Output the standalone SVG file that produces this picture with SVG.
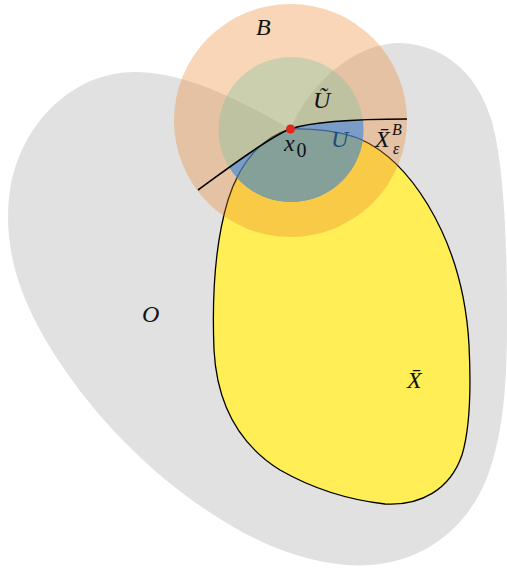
<svg xmlns="http://www.w3.org/2000/svg" width="507" height="571" viewBox="0 0 507 571">
<style>
.lbl{font-family:"Liberation Serif","Times New Roman",serif;font-style:italic;font-size:24px;fill:#111}
.up{font-style:normal}
</style>
<defs>
<path id="xbar" d="M290,129 C262,137 240,162 228,200 C215,243 212,300 214,350 C217,405 240,445 280,470 C315,490 350,500 385,504 C420,506 450,490 462,455 C471,425 471,385 469,345 C466,290 452,245 428,205 C408,172 385,150 360,139 C340,131 312,128 290,129 Z"/>
<clipPath id="uclip">
<path d="M198,190 C215,178 265,139 290,129 C305,124 340,119 407,119 L420,119 L420,260 L180,260 L180,205 Z"/>
</clipPath>
<clipPath id="tcirc"><circle cx="291" cy="129.5" r="72.5"/></clipPath>
</defs>
<g id="O">
<path d="M290,129 C240,100 185,72 135,72 C75,72 22,120 10,190 C0,260 30,320 67,373 C110,435 170,490 230,525 C280,555 330,568 370,565 C425,561 468,528 488,475 C504,432 507,380 507,320 C507,250 505,170 492,122 C480,80 450,45 400,43 C360,43 315,75 290,129 Z" fill="#e1e1e1"/>
</g>
<g id="Xbar">
<use href="#xbar" fill="#ffee55" stroke="#000" stroke-width="1.3"/>
</g>
<g id="B">
<circle cx="290.5" cy="120.5" r="116.5" fill="rgb(237,130,37)" fill-opacity="0.33"/>
</g>
<g id="Utilde">
<circle cx="291" cy="129.5" r="72.5" fill="rgb(117,194,154)" fill-opacity="0.35"/>
</g>
<g id="U" clip-path="url(#tcirc)">
<g clip-path="url(#uclip)">
<rect x="180" y="100" width="240" height="160" fill="#7a9dc8"/>
<use href="#xbar" fill="#84a098" stroke="#3f6290" stroke-width="1.2"/>
</g>
</g>
<g id="connectors">
<path d="M198,190 C215,178 265,139 290,129 C305,124 340,119 407,119" fill="none" stroke="#000" stroke-width="1.6"/>
</g>
<g id="x0">
<circle cx="290.5" cy="129" r="4.5" fill="#e3261b"/>
</g>
<g id="labels">
<text class="lbl" x="256" y="35">B</text>
<text class="lbl" x="313" y="108">Ũ</text>
<text class="lbl" x="331" y="147" style="fill:#1d4e7e">U</text>
<text class="lbl" x="284" y="151">x<tspan class="up" x="296.5" y="156.5" style="font-size:20px">0</tspan></text>
<text class="lbl" x="375" y="147">X̄<tspan x="392" y="135" style="font-size:16px">B</tspan><tspan x="393" y="154" style="font-size:16px">ε</tspan></text>
<text class="lbl" x="142" y="322">O</text>
<text class="lbl" x="407" y="388">X̄</text>
</g>
</svg>
